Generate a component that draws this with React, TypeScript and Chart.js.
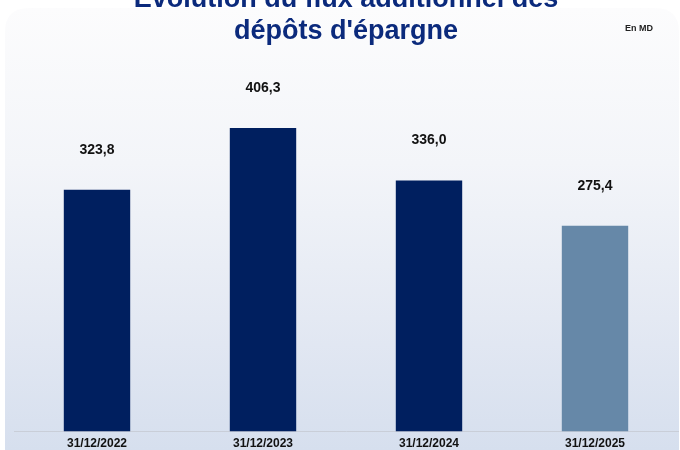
import React, { useEffect, useRef } from "react";
import { Chart, registerables } from "chart.js";

Chart.register(...registerables);

const categories = ["31/12/2022", "31/12/2023", "31/12/2024", "31/12/2025"];
const values = [323.8, 406.3, 336.0, 275.4];
const barColors = ["#001f5f", "#001f5f", "#001f5f", "#6688a8"];
const titleLines = ["Évolution du flux additionnel des", "dépôts d'épargne"];
const unitLabel = "En MD";

const fmt = (v: number) => v.toFixed(1).replace(".", ",");

const decorPlugin = {
  id: "decor",
  beforeDraw(chart: any) {
    const ctx = chart.ctx;
    const w = chart.width;
    const h = chart.height;
    ctx.save();
    ctx.fillStyle = "#ffffff";
    ctx.fillRect(0, 0, w, h);
    const x0 = 5, y0 = 8, x1 = 679, y1 = 472, r = 24;
    const g = ctx.createLinearGradient(0, y0, 0, h);
    g.addColorStop(0, "#fcfcfd");
    g.addColorStop(0.35, "#f3f5f9");
    g.addColorStop(0.7, "#e4e9f3");
    g.addColorStop(1, "#d6dfee");
    ctx.fillStyle = g;
    ctx.beginPath();
    ctx.moveTo(x0 + r, y0);
    ctx.lineTo(x1 - r, y0);
    ctx.quadraticCurveTo(x1, y0, x1, y0 + r);
    ctx.lineTo(x1, y1 - r);
    ctx.quadraticCurveTo(x1, y1, x1 - r, y1);
    ctx.lineTo(x0 + r, y1);
    ctx.quadraticCurveTo(x0, y1, x0, y1 - r);
    ctx.lineTo(x0, y0 + r);
    ctx.quadraticCurveTo(x0, y0, x0 + r, y0);
    ctx.closePath();
    ctx.fill();

    // title
    ctx.fillStyle = "#0b2a7c";
    ctx.font = "bold 27px 'Liberation Sans', Arial, sans-serif";
    ctx.textAlign = "center";
    ctx.textBaseline = "alphabetic";
    ctx.fillText(titleLines[0], 346, 7);
    ctx.fillText(titleLines[1], 346, 39);

    // unit label
    ctx.fillStyle = "#222222";
    ctx.font = "bold 9px 'Liberation Sans', Arial, sans-serif";
    ctx.textAlign = "left";
    ctx.textBaseline = "middle";
    ctx.fillText(unitLabel, 625, 29);
    ctx.restore();
  },
  afterDatasetsDraw(chart: any) {
    const ctx = chart.ctx;
    const meta = chart.getDatasetMeta(0);
    ctx.save();
    ctx.fillStyle = "#111111";
    ctx.font = "bold 14px 'Liberation Sans', Arial, sans-serif";
    ctx.textAlign = "center";
    ctx.textBaseline = "middle";
    meta.data.forEach((bar: any, i: number) => {
      ctx.fillText(fmt(values[i]), bar.x, bar.y - 40);
    });
    ctx.restore();
  },
};

export default function App() {
  const ref = useRef<HTMLCanvasElement | null>(null);
  useEffect(() => {
    if (!ref.current) return;
    const chart = new Chart(ref.current, {
      type: "bar",
      data: {
        labels: categories,
        datasets: [
          {
            data: values,
            backgroundColor: barColors,
            borderWidth: 0,
            barPercentage: 0.4,
            categoryPercentage: 1,
          },
        ],
      },
      options: {
        animation: false,
        responsive: false,
        maintainAspectRatio: false,
        layout: { padding: { left: 14, right: 2, top: 58, bottom: -6 } },
        plugins: {
          legend: { display: false },
          title: { display: false },
          tooltip: { enabled: false },
        },
        scales: {
          x: {
            grid: { display: false, drawTicks: false, tickLength: 0 },
            border: { display: true, color: "#c9ced8", width: 1 },
            ticks: {
              color: "#111111",
              padding: 5,
              font: { family: "'Liberation Sans Narrow', 'Liberation Sans', Arial, sans-serif", size: 12, weight: "bold" },
              maxRotation: 0,
            },
          },
          y: { display: false, min: 0, max: 500 },
        },
      },
      plugins: [decorPlugin],
    });
    return () => chart.destroy();
  }, []);
  return (
    <div style={{ position: "fixed", left: 0, top: 0, width: 680, height: 450 }}>
      <canvas ref={ref} width={680} height={450} style={{ display: "block" }} />
    </div>
  );
}
